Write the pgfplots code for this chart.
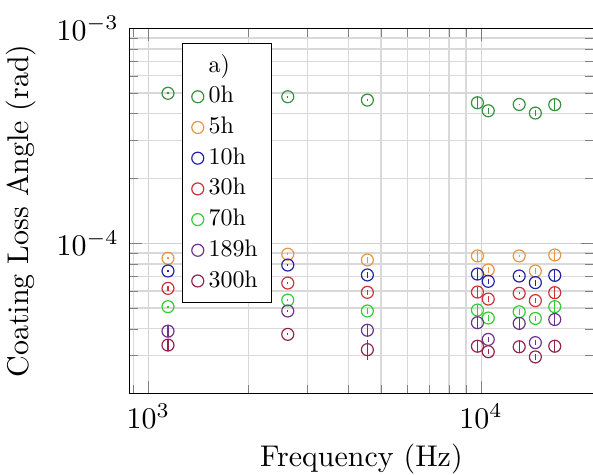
\documentclass[border=0pt]{standalone}
\usepackage{pgfplots}
\usepackage{pgfplotstable}
\pgfplotsset{compat=1.18}
\usetikzlibrary{calc}

% legend text: the 10pt design of Latin Modern, set at 8pt
\font\legfont="[lmroman10-regular]:mapping=tex-text" at 8pt

\definecolor{c0h}{RGB}{55,145,60}
\definecolor{c5h}{RGB}{228,150,70}
\definecolor{c10h}{RGB}{35,35,170}
\definecolor{c30h}{RGB}{205,50,60}
\definecolor{c70h}{RGB}{50,205,50}
\definecolor{c189h}{RGB}{110,50,140}
\definecolor{c300h}{RGB}{150,35,75}

% loss angle per annealing time: frequency, loss angle, uncertainty
\pgfplotstableread{
f      phi      e
1145   4.98e-4  0.05e-4
2623   4.80e-4  0.05e-4
4550   4.63e-4  0.05e-4
9745   4.50e-4  0.27e-4
10503  4.13e-4  0.12e-4
13010  4.42e-4  0.04e-4
14550  4.03e-4  0.12e-4
16640  4.41e-4  0.26e-4
}\tzero
\pgfplotstableread{
f      phi      e
1145   8.51e-5  0.085e-5
2623   8.89e-5  0.089e-5
4550   8.36e-5  0.25e-5
9745   8.73e-5  0.52e-5
10503  7.51e-5  0.23e-5
13010  8.73e-5  0.087e-5
14550  7.43e-5  0.22e-5
16640  8.82e-5  0.53e-5
}\tfive
\pgfplotstableread{
f      phi      e
1145   7.43e-5  0.074e-5
2623   7.92e-5  0.079e-5
4550   7.12e-5  0.21e-5
9745   7.19e-5  0.43e-5
10503  6.65e-5  0.20e-5
13010  7.04e-5  0.07e-5
14550  6.56e-5  0.20e-5
16640  7.09e-5  0.43e-5
}\tten
\pgfplotstableread{
f      phi      e
1145   6.17e-5  0.18e-5
2623   6.53e-5  0.065e-5
4550   5.91e-5  0.18e-5
9745   5.93e-5  0.36e-5
10503  5.50e-5  0.17e-5
13010  5.85e-5  0.06e-5
14550  5.41e-5  0.16e-5
16640  5.89e-5  0.35e-5
}\tthirty
\pgfplotstableread{
f      phi      e
1145   5.07e-5  0.05e-5
2623   5.44e-5  0.054e-5
4550   4.84e-5  0.15e-5
9745   4.89e-5  0.29e-5
10503  4.49e-5  0.13e-5
13010  4.80e-5  0.14e-5
14550  4.47e-5  0.13e-5
16640  5.07e-5  0.30e-5
}\tseventy
\pgfplotstableread{
f      phi      e
1145   3.90e-5  0.23e-5
2623   4.84e-5  0.048e-5
4550   3.94e-5  0.24e-5
9745   4.27e-5  0.26e-5
10503  3.57e-5  0.11e-5
13010  4.24e-5  0.25e-5
14550  3.45e-5  0.10e-5
16640  4.42e-5  0.27e-5
}\tonenineeight
\pgfplotstableread{
f      phi      e
1145   3.36e-5  0.20e-5
2623   3.77e-5  0.038e-5
4550   3.20e-5  0.35e-5
9745   3.32e-5  0.20e-5
10503  3.13e-5  0.09e-5
13010  3.30e-5  0.20e-5
14550  2.96e-5  0.09e-5
16640  3.32e-5  0.20e-5
}\tthreehundred

\pgfplotsset{
  lossplot/.style={only marks, mark=o, mark size=2pt,
    error bars/.cd, y dir=both, y explicit, error mark=none},
}

\begin{document}
\begin{tikzpicture}
\begin{axis}[
  name=ax,
  scale only axis,
  width=155pt, height=122pt,
  xmode=log, ymode=log,
  xmin=876, xmax=21750,
  ymin=2e-5, ymax=1e-3,
  grid=both,
  major grid style={draw=gray!35},
  minor grid style={draw=gray!30},
  xlabel={Frequency (Hz)},
  xlabel style={yshift=1.7pt},
  ylabel={Coating Loss Angle (rad)},
  legend cell align=left,
  legend image code/.code={\draw[#1] plot coordinates {(0cm,0cm)};},
  legend style={at={(0.114,0.96)}, anchor=north west,
    font=\legfont, draw=black, fill=white,
    inner xsep=3pt, inner ysep=2pt,
    nodes={inner sep=1.6pt}},
]
\addlegendimage{empty legend}
\addlegendentry{a)}
\addplot[color=c0h, lossplot] table[x=f, y=phi, y error=e] {\tzero};
\addlegendentry{0h}
\addplot[color=c5h, lossplot] table[x=f, y=phi, y error=e] {\tfive};
\addlegendentry{5h}
\addplot[color=c10h, lossplot] table[x=f, y=phi, y error=e] {\tten};
\addlegendentry{10h}
\addplot[color=c30h, lossplot] table[x=f, y=phi, y error=e] {\tthirty};
\addlegendentry{30h}
\addplot[color=c70h, lossplot] table[x=f, y=phi, y error=e] {\tseventy};
\addlegendentry{70h}
\addplot[color=c189h, lossplot] table[x=f, y=phi, y error=e] {\tonenineeight};
\addlegendentry{189h}
\addplot[color=c300h, lossplot] table[x=f, y=phi, y error=e] {\tthreehundred};
\addlegendentry{300h}
\end{axis}
% trim the page: the right frame line falls just outside it
\pgfresetboundingbox
\path[use as bounding box]
  ($(ax.outer south west)+(1.3pt,3.0pt)$) rectangle
  ($(ax.south east |- ax.outer north east)+(-0.15pt,2.0pt)$);
\end{tikzpicture}
\end{document}
